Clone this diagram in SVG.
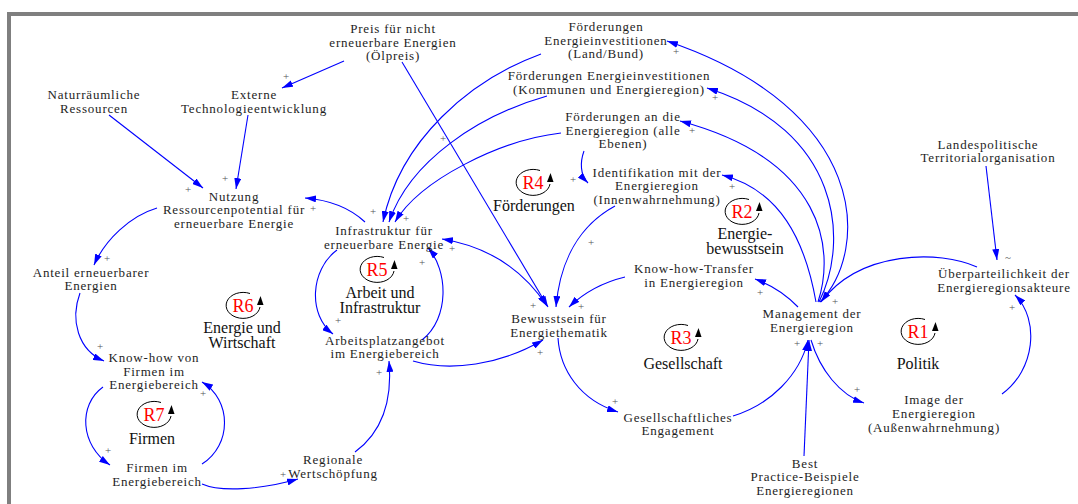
<svg xmlns="http://www.w3.org/2000/svg" width="1078" height="504" viewBox="0 0 1078 504">
  <style>
    .node text { font-family: "Liberation Serif", "Times New Roman", serif; font-size: 13px; letter-spacing: 0.8px; fill: #1e1e1e; text-anchor: middle; }
    .link { fill: none; stroke: #0000ff; stroke-width: 1.1; marker-end: url(#ah); }
    .both { marker-start: url(#ah); }
    .pol { font-family: "Liberation Serif", "Times New Roman", serif; font-size: 11px; fill: #555; text-anchor: middle; }
    .loop .id { font-family: "Liberation Serif", "Times New Roman", serif; font-size: 18px; fill: #ff0000; text-anchor: middle; }
    .loop .name { font-family: "Liberation Serif", "Times New Roman", serif; font-size: 16px; fill: #111; text-anchor: middle; }
    .frame { fill: none; stroke: #7f7f7f; stroke-width: 4; }
  </style>
  <defs>
    <marker id="ah" viewBox="0 0 11 7" refX="11" refY="3.5" markerWidth="11" markerHeight="7" markerUnits="userSpaceOnUse" orient="auto-start-reverse">
      <path d="M0,0 L11,3.5 L0,7 z" fill="#0000ff"/>
    </marker>
    <!-- loop sign: open circle with upward arrow on the right -->
    <g id="loopsign">
      <path d="M7,-12.5 A17 13 0 1 0 17,1" fill="none" stroke="#000" stroke-width="1"/>
      <polygon points="14,-1 20.5,-1 17.5,-10" fill="#000"/>
    </g>
  </defs>

  <rect width="1078" height="504" fill="#fff"/>
  <path class="frame" d="M9,504 L9,14 L1080,14"/>

  <!-- connectors -->
  <g id="connectors">
    <path class="link" d="M344,61 L282,88"/>
    <path class="link" d="M109,115 L203,188"/>
    <path class="link" d="M248,115 L236,189"/>
    <path class="link" d="M157,208 C130,216 105,240 94,265"/>
    <path class="link" d="M365,222 C350,208 330,200 305,198"/>
    <path class="link" d="M337,250 C310,270 308,315 333,334"/>
    <path class="link" d="M422,340 C450,318 448,270 428,248"/>
    <path class="link" d="M541,54 C470,80 400,140 383,222"/>
    <path class="link" d="M547,96 C480,115 410,160 389,222"/>
    <path class="link" d="M561,133 C500,140 420,180 395,222"/>
    <path class="link" d="M402,62 L548,307"/>
    <path class="link both" d="M442,239 Q510,250 547,306"/>
    <path class="link" d="M615,206 C580,225 560,260 556,307"/>
    <path class="link" d="M625,277 Q592,285 569,307"/>
    <path class="link" d="M584,151 C580,162 580,175 588,183"/>
    <path class="link" d="M816,302 C805,240 780,190 722,175"/>
    <path class="link" d="M798,307 Q780,288 755,279"/>
    <path class="link" d="M820,302 C870,250 870,110 667,41"/>
    <path class="link" d="M819,302 C850,240 840,130 707,88"/>
    <path class="link" d="M818,302 C835,250 825,160 680,121"/>
    <path class="link" d="M977,267 C940,250 860,250 821,302"/>
    <path class="link" d="M986,166 L997,260"/>
    <path class="link" d="M1002,394 C1035,370 1040,320 1015,295"/>
    <path class="link" d="M733,416 C770,405 800,375 808,340"/>
    <path class="link" d="M804,456 L809,340"/>
    <path class="link" d="M811,340 C820,370 840,395 864,403"/>
    <path class="link" d="M558,338 C560,370 580,400 618,412"/>
    <path class="link" d="M413,361 C450,372 500,365 543,340"/>
    <path class="link" d="M355,452 C385,430 392,395 389,361"/>
    <path class="link" d="M202,484 C220,492 260,490 298,479"/>
    <path class="link" d="M202,464 C232,445 232,400 202,382"/>
    <path class="link" d="M103,387 C78,405 80,445 110,465"/>
    <path class="link" d="M80,293 C70,320 78,350 104,361"/>
  </g>

  <!-- polarity signs -->
  <g id="polarities">
    <text class="pol" x="286" y="80">+</text>
    <text class="pol" x="188" y="193">+</text>
    <text class="pol" x="225" y="182">+</text>
    <text class="pol" x="313" y="212">+</text>
    <text class="pol" x="107" y="262">+</text>
    <text class="pol" x="100" y="350">+</text>
    <text class="pol" x="108" y="454">+</text>
    <text class="pol" x="203" y="397">+</text>
    <text class="pol" x="283" y="478">+</text>
    <text class="pol" x="338" y="324">+</text>
    <text class="pol" x="379" y="376">+</text>
    <text class="pol" x="422" y="266">+</text>
    <text class="pol" x="452" y="252">+</text>
    <text class="pol" x="373" y="215">+</text>
    <text class="pol" x="406" y="222">+</text>
    <text class="pol" x="443" y="142">+</text>
    <text class="pol" x="676" y="55">+</text>
    <text class="pol" x="715" y="101">+</text>
    <text class="pol" x="692" y="134">+</text>
    <text class="pol" x="573" y="183">+</text>
    <text class="pol" x="732" y="190">+</text>
    <text class="pol" x="591" y="246">+</text>
    <text class="pol" x="533" y="309">+</text>
    <text class="pol" x="581" y="310">+</text>
    <text class="pol" x="540" y="356">+</text>
    <text class="pol" x="615" y="405">+</text>
    <text class="pol" x="760" y="296">+</text>
    <text class="pol" x="835" y="305">+</text>
    <text class="pol" x="797" y="347">+</text>
    <text class="pol" x="820" y="347">+</text>
    <text class="pol" x="857" y="393">+</text>
    <text class="pol" x="1012" y="311">+</text>
    <text class="pol" x="1008" y="261">~</text>
  </g>

  <!-- variables -->
  <g id="n-naturraum" class="node"><text x="94" y="99">Naturräumliche</text><text x="94" y="113">Ressourcen</text></g>
  <g id="n-technologie" class="node"><text x="254" y="99">Externe</text><text x="254" y="113">Technologieentwicklung</text></g>
  <g id="n-oelpreis" class="node"><text x="393" y="33">Preis für nicht</text><text x="393" y="47">erneuerbare Energien</text><text x="393" y="60">(Ölpreis)</text></g>
  <g id="n-foerd-land" class="node"><text x="606" y="31">Förderungen</text><text x="606" y="45">Energieinvestitionen</text><text x="606" y="58">(Land/Bund)</text></g>
  <g id="n-foerd-kommunen" class="node"><text x="609" y="80">Förderungen Energieinvestitionen</text><text x="609" y="94">(Kommunen und Energieregion)</text></g>
  <g id="n-foerd-region" class="node"><text x="623" y="121">Förderungen an die</text><text x="623" y="135">Energieregion (alle</text><text x="623" y="148">Ebenen)</text></g>
  <g id="n-landespolitik" class="node"><text x="988" y="149">Landespolitische</text><text x="988" y="162">Territorialorganisation</text></g>
  <g id="n-nutzung" class="node"><text x="234" y="201">Nutzung</text><text x="234" y="214">Ressourcenpotential für</text><text x="234" y="228">erneuerbare Energie</text></g>
  <g id="n-identifikation" class="node"><text x="657" y="177">Identifikation mit der</text><text x="657" y="190">Energieregion</text><text x="657" y="204">(Innenwahrnehmung)</text></g>
  <g id="n-infrastruktur" class="node"><text x="384" y="235">Infrastruktur für</text><text x="384" y="249">erneuerbare Energie</text></g>
  <g id="n-anteil" class="node"><text x="91" y="277">Anteil erneuerbarer</text><text x="91" y="290">Energien</text></g>
  <g id="n-knowhow-transfer" class="node"><text x="694" y="273">Know-how-Transfer</text><text x="694" y="287">in Energieregion</text></g>
  <g id="n-ueberparteilichkeit" class="node"><text x="1004" y="278">Überparteilichkeit der</text><text x="1004" y="292">Energieregionsakteure</text></g>
  <g id="n-bewusstsein" class="node"><text x="559" y="323">Bewusstsein für</text><text x="559" y="337">Energiethematik</text></g>
  <g id="n-management" class="node"><text x="812" y="318">Management der</text><text x="812" y="332">Energieregion</text></g>
  <g id="n-arbeitsplatz" class="node"><text x="385" y="345">Arbeitsplatzangebot</text><text x="385" y="358">im Energiebereich</text></g>
  <g id="n-knowhow-firmen" class="node"><text x="154" y="362">Know-how von</text><text x="154" y="376">Firmen im</text><text x="154" y="389">Energiebereich</text></g>
  <g id="n-engagement" class="node"><text x="678" y="422">Gesellschaftliches</text><text x="678" y="435">Engagement</text></g>
  <g id="n-image" class="node"><text x="934" y="404">Image der</text><text x="934" y="418">Energieregion</text><text x="934" y="432">(Außenwahrnehmung)</text></g>
  <g id="n-firmen" class="node"><text x="157" y="472">Firmen im</text><text x="157" y="486">Energiebereich</text></g>
  <g id="n-wertschoepfung" class="node"><text x="333" y="464">Regionale</text><text x="333" y="478">Wertschöpfung</text></g>
  <g id="n-bestpractice" class="node"><text x="805" y="468">Best</text><text x="805" y="481">Practice-Beispiele</text><text x="805" y="495">Energieregionen</text></g>

  <!-- reinforcing loops -->
  <g id="loop-r4" class="loop"><use href="#loopsign" x="533" y="183"/><text class="id" x="533" y="189">R4</text><text class="name" x="534" y="211">Förderungen</text></g>
  <g id="loop-r2" class="loop"><use href="#loopsign" x="742" y="212"/><text class="id" x="742" y="218">R2</text><text class="name" x="745" y="239">Energie-</text><text class="name" x="745" y="254">bewusstsein</text></g>
  <g id="loop-r5" class="loop"><use href="#loopsign" x="377" y="270"/><text class="id" x="377" y="276">R5</text><text class="name" x="380" y="298">Arbeit und</text><text class="name" x="380" y="313">Infrastruktur</text></g>
  <g id="loop-r6" class="loop"><use href="#loopsign" x="243" y="306"/><text class="id" x="243" y="312">R6</text><text class="name" x="242" y="333">Energie und</text><text class="name" x="242" y="348">Wirtschaft</text></g>
  <g id="loop-r3" class="loop"><use href="#loopsign" x="681" y="338"/><text class="id" x="681" y="344">R3</text><text class="name" x="683" y="369">Gesellschaft</text></g>
  <g id="loop-r1" class="loop"><use href="#loopsign" x="918" y="332"/><text class="id" x="918" y="338">R1</text><text class="name" x="918" y="369">Politik</text></g>
  <g id="loop-r7" class="loop"><use href="#loopsign" x="154" y="415"/><text class="id" x="154" y="421">R7</text><text class="name" x="152" y="444">Firmen</text></g>
</svg>
